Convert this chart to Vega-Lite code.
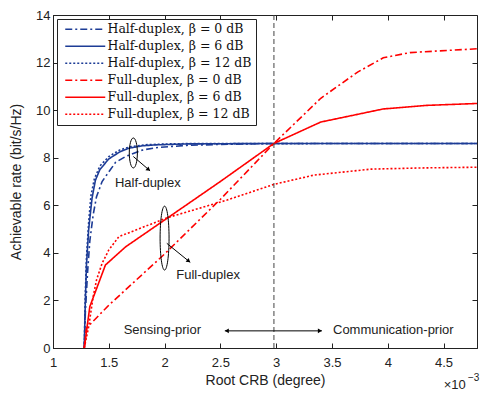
{
  "$schema": "https://vega.github.io/schema/vega-lite/v6.json",
  "width": 424,
  "height": 333,
  "autosize": {"type": "none"},
  "padding": {"left": 53, "top": 15, "right": 3, "bottom": 48},
  "config": {
    "view": {"stroke": "#222", "strokeWidth": 1},
    "axis": {"labelFont": "Liberation Sans", "titleFont": "Liberation Sans", "labelFontSize": 13, "titleFontSize": 14, "labelColor": "#222", "titleColor": "#222", "titleFontWeight": "normal", "domainColor": "#222", "tickColor": "#222", "grid": false}
  },
  "resolve": {"axis": {"x": "independent", "y": "independent"}},
  "datasets": {
    "curves": [
      {"s": "Half-duplex, β = 0 dB", "x": 1.28, "y": 0},
      {"s": "Half-duplex, β = 0 dB", "x": 1.29, "y": 1.5},
      {"s": "Half-duplex, β = 0 dB", "x": 1.31, "y": 3.2},
      {"s": "Half-duplex, β = 0 dB", "x": 1.33, "y": 4.5},
      {"s": "Half-duplex, β = 0 dB", "x": 1.36, "y": 5.6},
      {"s": "Half-duplex, β = 0 dB", "x": 1.39, "y": 6.36},
      {"s": "Half-duplex, β = 0 dB", "x": 1.44, "y": 7.0},
      {"s": "Half-duplex, β = 0 dB", "x": 1.5, "y": 7.4},
      {"s": "Half-duplex, β = 0 dB", "x": 1.56, "y": 7.8},
      {"s": "Half-duplex, β = 0 dB", "x": 1.65, "y": 8.05},
      {"s": "Half-duplex, β = 0 dB", "x": 1.8, "y": 8.32},
      {"s": "Half-duplex, β = 0 dB", "x": 1.92, "y": 8.42},
      {"s": "Half-duplex, β = 0 dB", "x": 2.2, "y": 8.52},
      {"s": "Half-duplex, β = 0 dB", "x": 2.6, "y": 8.57},
      {"s": "Half-duplex, β = 0 dB", "x": 3.0, "y": 8.6},
      {"s": "Half-duplex, β = 0 dB", "x": 4.8, "y": 8.6},
      {"s": "Half-duplex, β = 6 dB", "x": 1.28, "y": 0},
      {"s": "Half-duplex, β = 6 dB", "x": 1.29, "y": 2.0},
      {"s": "Half-duplex, β = 6 dB", "x": 1.3, "y": 3.5},
      {"s": "Half-duplex, β = 6 dB", "x": 1.32, "y": 5.0},
      {"s": "Half-duplex, β = 6 dB", "x": 1.35, "y": 6.3},
      {"s": "Half-duplex, β = 6 dB", "x": 1.38, "y": 7.05},
      {"s": "Half-duplex, β = 6 dB", "x": 1.42, "y": 7.5},
      {"s": "Half-duplex, β = 6 dB", "x": 1.5, "y": 7.95},
      {"s": "Half-duplex, β = 6 dB", "x": 1.6, "y": 8.25},
      {"s": "Half-duplex, β = 6 dB", "x": 1.68, "y": 8.4},
      {"s": "Half-duplex, β = 6 dB", "x": 1.8, "y": 8.5},
      {"s": "Half-duplex, β = 6 dB", "x": 1.92, "y": 8.54},
      {"s": "Half-duplex, β = 6 dB", "x": 2.2, "y": 8.58},
      {"s": "Half-duplex, β = 6 dB", "x": 3.0, "y": 8.6},
      {"s": "Half-duplex, β = 6 dB", "x": 4.8, "y": 8.6},
      {"s": "Half-duplex, β = 12 dB", "x": 1.28, "y": 0},
      {"s": "Half-duplex, β = 12 dB", "x": 1.29, "y": 2.3},
      {"s": "Half-duplex, β = 12 dB", "x": 1.3, "y": 3.8},
      {"s": "Half-duplex, β = 12 dB", "x": 1.32, "y": 5.3},
      {"s": "Half-duplex, β = 12 dB", "x": 1.34, "y": 6.4},
      {"s": "Half-duplex, β = 12 dB", "x": 1.37, "y": 7.1},
      {"s": "Half-duplex, β = 12 dB", "x": 1.42, "y": 7.65},
      {"s": "Half-duplex, β = 12 dB", "x": 1.5, "y": 8.05},
      {"s": "Half-duplex, β = 12 dB", "x": 1.6, "y": 8.33},
      {"s": "Half-duplex, β = 12 dB", "x": 1.7, "y": 8.47},
      {"s": "Half-duplex, β = 12 dB", "x": 1.85, "y": 8.55},
      {"s": "Half-duplex, β = 12 dB", "x": 2.1, "y": 8.59},
      {"s": "Half-duplex, β = 12 dB", "x": 4.8, "y": 8.6},
      {"s": "Full-duplex, β = 0 dB", "x": 1.28, "y": 0},
      {"s": "Full-duplex, β = 0 dB", "x": 1.3, "y": 0.84},
      {"s": "Full-duplex, β = 0 dB", "x": 1.5, "y": 1.8},
      {"s": "Full-duplex, β = 0 dB", "x": 2.0, "y": 3.95},
      {"s": "Full-duplex, β = 0 dB", "x": 2.5, "y": 6.25},
      {"s": "Full-duplex, β = 0 dB", "x": 2.98, "y": 8.6},
      {"s": "Full-duplex, β = 0 dB", "x": 3.4, "y": 10.5},
      {"s": "Full-duplex, β = 0 dB", "x": 3.73, "y": 11.6},
      {"s": "Full-duplex, β = 0 dB", "x": 3.96, "y": 12.2},
      {"s": "Full-duplex, β = 0 dB", "x": 4.2, "y": 12.42},
      {"s": "Full-duplex, β = 0 dB", "x": 4.8, "y": 12.58},
      {"s": "Full-duplex, β = 6 dB", "x": 1.28, "y": 0},
      {"s": "Full-duplex, β = 6 dB", "x": 1.33, "y": 1.74},
      {"s": "Full-duplex, β = 6 dB", "x": 1.47, "y": 3.49},
      {"s": "Full-duplex, β = 6 dB", "x": 1.65, "y": 4.25},
      {"s": "Full-duplex, β = 6 dB", "x": 2.5, "y": 7.0},
      {"s": "Full-duplex, β = 6 dB", "x": 2.98, "y": 8.6},
      {"s": "Full-duplex, β = 6 dB", "x": 3.4, "y": 9.5},
      {"s": "Full-duplex, β = 6 dB", "x": 3.96, "y": 10.05},
      {"s": "Full-duplex, β = 6 dB", "x": 4.35, "y": 10.2},
      {"s": "Full-duplex, β = 6 dB", "x": 4.8, "y": 10.28},
      {"s": "Full-duplex, β = 12 dB", "x": 1.28, "y": 0},
      {"s": "Full-duplex, β = 12 dB", "x": 1.32, "y": 0.9},
      {"s": "Full-duplex, β = 12 dB", "x": 1.36, "y": 2.16},
      {"s": "Full-duplex, β = 12 dB", "x": 1.39, "y": 2.86},
      {"s": "Full-duplex, β = 12 dB", "x": 1.44, "y": 3.56},
      {"s": "Full-duplex, β = 12 dB", "x": 1.5, "y": 4.12},
      {"s": "Full-duplex, β = 12 dB", "x": 1.59, "y": 4.68},
      {"s": "Full-duplex, β = 12 dB", "x": 2.02, "y": 5.47},
      {"s": "Full-duplex, β = 12 dB", "x": 2.56, "y": 6.22},
      {"s": "Full-duplex, β = 12 dB", "x": 2.98, "y": 6.88},
      {"s": "Full-duplex, β = 12 dB", "x": 3.34, "y": 7.27},
      {"s": "Full-duplex, β = 12 dB", "x": 3.85, "y": 7.52},
      {"s": "Full-duplex, β = 12 dB", "x": 4.3, "y": 7.57},
      {"s": "Full-duplex, β = 12 dB", "x": 4.8, "y": 7.6}
    ],
    "labels": [
      {"t": "Half-duplex", "x": 1.85, "y": 6.95},
      {"t": "Full-duplex", "x": 2.39, "y": 3.05},
      {"t": "Sensing-prior", "x": 1.98, "y": 0.75},
      {"t": "Communication-prior", "x": 4.05, "y": 0.75},
      {"t": "×10", "x": 4.6, "y": -1.55}
    ],
    "sup": [{"t": "−3", "x": 4.77, "y": -1.25}],
    "vline": [{"x": 2.98}],
    "ellipses": [
      {"x": 1.72, "y": 8.2, "n": "h"},
      {"x": 2.0, "y": 4.62, "n": "f"}
    ],
    "arrows": [
      {"x": 1.72, "y": 8.05, "x2": 1.87, "y2": 7.45},
      {"x": 2.02, "y": 4.4, "x2": 2.23, "y2": 3.6},
      {"x": 2.54, "y": 0.72, "x2": 3.41, "y2": 0.72}
    ],
    "heads": [
      {"x": 1.87, "y": 7.45, "a": 39},
      {"x": 2.23, "y": 3.6, "a": 39},
      {"x": 3.41, "y": 0.72, "a": 0},
      {"x": 2.54, "y": 0.72, "a": 180}
    ]
  },
  "layer": [
    {
      "data": {"name": "curves"},
      "mark": {"type": "line", "strokeWidth": 1.6},
      "encoding": {
        "x": {"field": "x", "type": "quantitative", "scale": {"domain": [1, 4.8], "nice": false, "zero": false},
          "axis": {"title": "Root CRB (degree)", "values": [1, 1.5, 2, 2.5, 3, 3.5, 4, 4.5], "format": "~g", "tickSize": -5, "labelPadding": 13, "titlePadding": 4, "labelFlush": false}},
        "y": {"field": "y", "type": "quantitative", "scale": {"domain": [0, 14], "nice": false, "zero": false},
          "axis": {"title": "Achievable rate (bit/s/Hz)", "values": [0, 2, 4, 6, 8, 10, 12, 14], "tickSize": -5, "labelPadding": 8, "titlePadding": 12}},
        "color": {"field": "s", "type": "nominal", "title": null,
          "scale": {"domain": ["Half-duplex, β = 0 dB", "Half-duplex, β = 6 dB", "Half-duplex, β = 12 dB", "Full-duplex, β = 0 dB", "Full-duplex, β = 6 dB", "Full-duplex, β = 12 dB"],
            "range": ["#1d3c96", "#1d3c96", "#1d3c96", "#ff0000", "#ff0000", "#ff0000"]},
          "legend": {"orient": "top-left", "offset": 4, "strokeColor": "#222", "fillColor": "white", "padding": 4, "symbolType": "M-8,0H8", "symbolSize": 25, "symbolOffset": 18, "symbolStrokeWidth": 1.6, "labelFont": "DejaVu Serif", "labelFontSize": 12.5, "labelColor": "#111", "rowPadding": 4, "labelOffset": 16}},
        "strokeDash": {"field": "s", "type": "nominal", "title": null,
          "scale": {"domain": ["Half-duplex, β = 0 dB", "Half-duplex, β = 6 dB", "Half-duplex, β = 12 dB", "Full-duplex, β = 0 dB", "Full-duplex, β = 6 dB", "Full-duplex, β = 12 dB"],
            "range": [[7, 3, 2, 3], [1, 0], [2, 2], [7, 3, 2, 3], [1, 0], [2, 2]]}}
      }
    },
    {
      "data": {"name": "vline"},
      "mark": {"type": "rule", "color": "#444", "strokeDash": [5, 3], "strokeWidth": 1},
      "encoding": {"x": {"field": "x", "type": "quantitative", "axis": null}}
    },
    {
      "data": {"name": "arrows"},
      "mark": {"type": "rule", "color": "black", "strokeWidth": 1},
      "encoding": {
        "x": {"field": "x", "type": "quantitative",
          "axis": {"orient": "top", "title": null, "labels": false, "domain": false, "values": [1, 1.5, 2, 2.5, 3, 3.5, 4, 4.5], "tickSize": -5}},
        "y": {"field": "y", "type": "quantitative",
          "axis": {"orient": "right", "title": null, "labels": false, "domain": false, "values": [0, 2, 4, 6, 8, 10, 12, 14], "tickSize": -5}},
        "x2": {"field": "x2"}, "y2": {"field": "y2"}}
    },
    {
      "data": {"name": "heads"},
      "mark": {"type": "point", "shape": "M-1,-0.6L0,0L-1,0.6Z", "filled": true, "color": "black", "size": 64, "opacity": 1},
      "encoding": {"x": {"field": "x", "type": "quantitative", "axis": null}, "y": {"field": "y", "type": "quantitative", "axis": null}, "angle": {"field": "a", "type": "quantitative", "scale": null}}
    },
    {
      "data": {"name": "ellipses"},
      "transform": [{"filter": "datum.n == 'h'"}],
      "mark": {"type": "point", "shape": "M0,-1A0.27,1,0,1,1,0,1A0.27,1,0,1,1,0,-1Z", "filled": false, "color": "black", "size": 900, "strokeWidth": 1, "opacity": 1},
      "encoding": {"x": {"field": "x", "type": "quantitative", "axis": null}, "y": {"field": "y", "type": "quantitative", "axis": null}}
    },
    {
      "data": {"name": "ellipses"},
      "transform": [{"filter": "datum.n == 'f'"}],
      "mark": {"type": "point", "shape": "M0,-1A0.14,1,0,1,1,0,1A0.14,1,0,1,1,0,-1Z", "filled": false, "color": "black", "size": 4096, "strokeWidth": 1, "opacity": 1},
      "encoding": {"x": {"field": "x", "type": "quantitative", "axis": null}, "y": {"field": "y", "type": "quantitative", "axis": null}}
    },
    {
      "data": {"name": "labels"},
      "mark": {"type": "text", "font": "Liberation Sans", "fontSize": 13, "color": "#222", "align": "center", "baseline": "middle"},
      "encoding": {"x": {"field": "x", "type": "quantitative", "axis": null}, "y": {"field": "y", "type": "quantitative", "axis": null}, "text": {"field": "t"}}
    },
    {
      "data": {"name": "sup"},
      "mark": {"type": "text", "font": "Liberation Sans", "fontSize": 10, "color": "#222", "align": "center", "baseline": "middle"},
      "encoding": {"x": {"field": "x", "type": "quantitative", "axis": null}, "y": {"field": "y", "type": "quantitative", "axis": null}, "text": {"field": "t"}}
    }
  ]
}
